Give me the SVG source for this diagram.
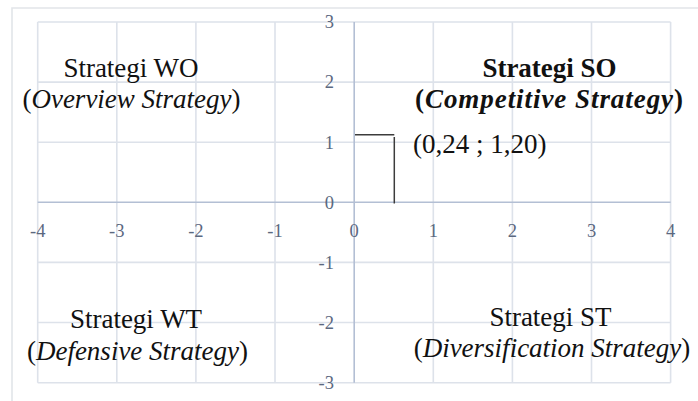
<svg xmlns="http://www.w3.org/2000/svg" width="698" height="401" viewBox="0 0 698 401">
<style>
.grid{stroke:#dde2ea;stroke-width:1.6;fill:none}
.axis{stroke:#b3bfd4;stroke-width:1.6;fill:none}
.tick{font-family:"Liberation Serif",serif;font-size:18.5px;fill:#5b6880}
.yl{text-anchor:end}
.xl{text-anchor:middle}
.q{font-family:"Liberation Serif",serif;font-size:27px;fill:#111;text-anchor:middle}
.b{font-weight:bold}
.mark{stroke:#3c3c3c;stroke-width:1.5;fill:none}
</style>
<rect x="0" y="0" width="698" height="401" fill="#ffffff"/>
<path d="M12 401 V8 H698" stroke="#e2e5e9" stroke-width="1.6" fill="none"/>
<g id="grid" class="grid">
<path d="M37.7 22 V382.7 M116.8 22 V382.7 M195.9 22 V382.7 M275 22 V382.7 M433.3 22 V382.7 M512.4 22 V382.7 M591.5 22 V382.7 M670.6 22 V382.7"/>
<path d="M37.7 22 H670.6 M37.7 82.1 H670.6 M37.7 142.2 H670.6 M37.7 262.4 H670.6 M37.7 322.5 H670.6 M37.7 382.7 H670.6"/>
</g>
<g id="axes" class="axis">
<path d="M354.2 22 V382.7"/>
<path d="M37.7 202.3 H670.6"/>
</g>
<g id="y-labels" class="tick yl">
<text x="334" y="28.3">3</text>
<text x="334" y="88.4">2</text>
<text x="334" y="148.5">1</text>
<text x="334" y="208.6">0</text>
<text x="334" y="268.7">-1</text>
<text x="334" y="328.8">-2</text>
<text x="334" y="389">-3</text>
</g>
<g id="x-labels" class="tick xl">
<text x="37.7" y="236.7">-4</text>
<text x="116.8" y="236.7">-3</text>
<text x="195.9" y="236.7">-2</text>
<text x="275" y="236.7">-1</text>
<text x="354.2" y="236.7">0</text>
<text x="433.3" y="236.7">1</text>
<text x="512.4" y="236.7">2</text>
<text x="591.5" y="236.7">3</text>
<text x="670.6" y="236.7">4</text>
</g>
<g id="connectors">
<path class="mark" d="M355 134.7 H394.3"/>
<path class="mark" d="M394.3 137 V203.5"/>
</g>
<g id="point-label">
<text class="q" x="413" y="153" style="text-anchor:start">(0,24 ; 1,20)</text>
</g>
<g id="quadrant-wo">
<text class="q" x="131" y="77">Strategi WO</text>
<text class="q" x="131.5" y="108">(<tspan font-style="italic">Overview Strategy</tspan>)</text>
</g>
<g id="quadrant-so">
<text class="q b" x="549.5" y="77">Strategi SO</text>
<text class="q b" x="549" y="108" textLength="268" lengthAdjust="spacing">(<tspan font-style="italic">Competitive Strategy</tspan>)</text>
</g>
<g id="quadrant-wt">
<text class="q" x="136" y="328.3">Strategi WT</text>
<text class="q" x="137.5" y="360">(<tspan font-style="italic">Defensive Strategy</tspan>)</text>
</g>
<g id="quadrant-st">
<text class="q" x="550.5" y="326">Strategi ST</text>
<text class="q" x="552" y="357">(<tspan font-style="italic">Diversification Strategy</tspan>)</text>
</g>
</svg>
